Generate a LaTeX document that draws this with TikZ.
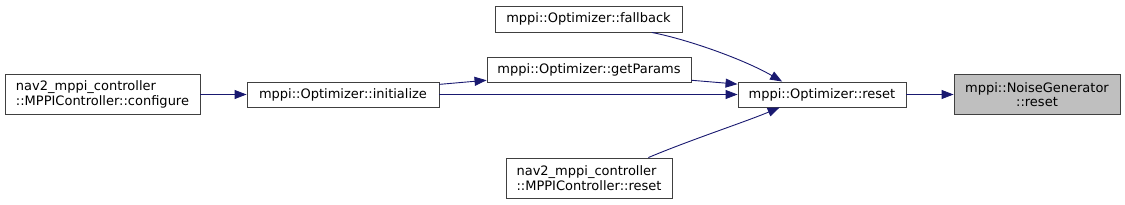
\documentclass[tikz,border=0pt]{standalone}
\usepackage{fontspec}
\setmainfont{DejaVu Sans}
\usetikzlibrary{arrows.meta}
\definecolor{edgeblue}{RGB}{25,25,112}
\definecolor{hlgray}{RGB}{191,191,191}

\begin{document}
\begin{tikzpicture}[x=1pt, y=-1pt, >={Triangle[length=12pt,width=9pt]},
    fn/.style={draw=black!75, fill=white, line width=0.9pt, inner sep=0pt,
        font=\fontsize{13}{14.5}\selectfont},
    call/.style={->, draw=edgeblue, line width=0.9pt}]
    \useasboundingbox (0,0) rectangle (1125,205);

    \node[fn, minimum width=195pt, minimum height=40pt, align=left] (configure) at (102.5,94.5)
        {nav2\_mppi\_controller\\::MPPIController::configure};
    \node[fn, minimum width=192pt, minimum height=25pt] (initialize) at (343,94.5)
        {mppi::Optimizer::initialize};
    \node[fn, minimum width=187pt, minimum height=26pt] (fallback) at (588.5,19)
        {mppi::Optimizer::fallback};
    \node[fn, minimum width=204pt, minimum height=25pt] (getparams) at (589,69.5)
        {mppi::Optimizer::getParams};
    \node[fn, minimum width=166pt, minimum height=40pt, align=left] (mppireset) at (589,178)
        {nav2\_mppi\_controller\\::MPPIController::reset};
    \node[fn, minimum width=168pt, minimum height=25pt] (optreset) at (822,94.5)
        {mppi::Optimizer::reset};
    \node[fn, fill=hlgray, minimum width=166pt, minimum height=40pt, align=center] (noise) at (1037,94.5)
        {mppi::NoiseGenerator\\::reset};

    \draw[call] (configure) -- (initialize);
    \draw[call] (initialize.6) -- (getparams.186);
    \draw[call] (initialize) -- (optreset);
    \draw[call] (getparams.-6) -- (optreset.173);
    \draw[call] (fallback.-12) .. controls (690,40) and (745,60) .. (optreset.162);
    \draw[call] (mppireset.19) .. controls (690,140) and (745,122) .. (optreset.197);
    \draw[call] (optreset) -- (noise);
\end{tikzpicture}
\end{document}
